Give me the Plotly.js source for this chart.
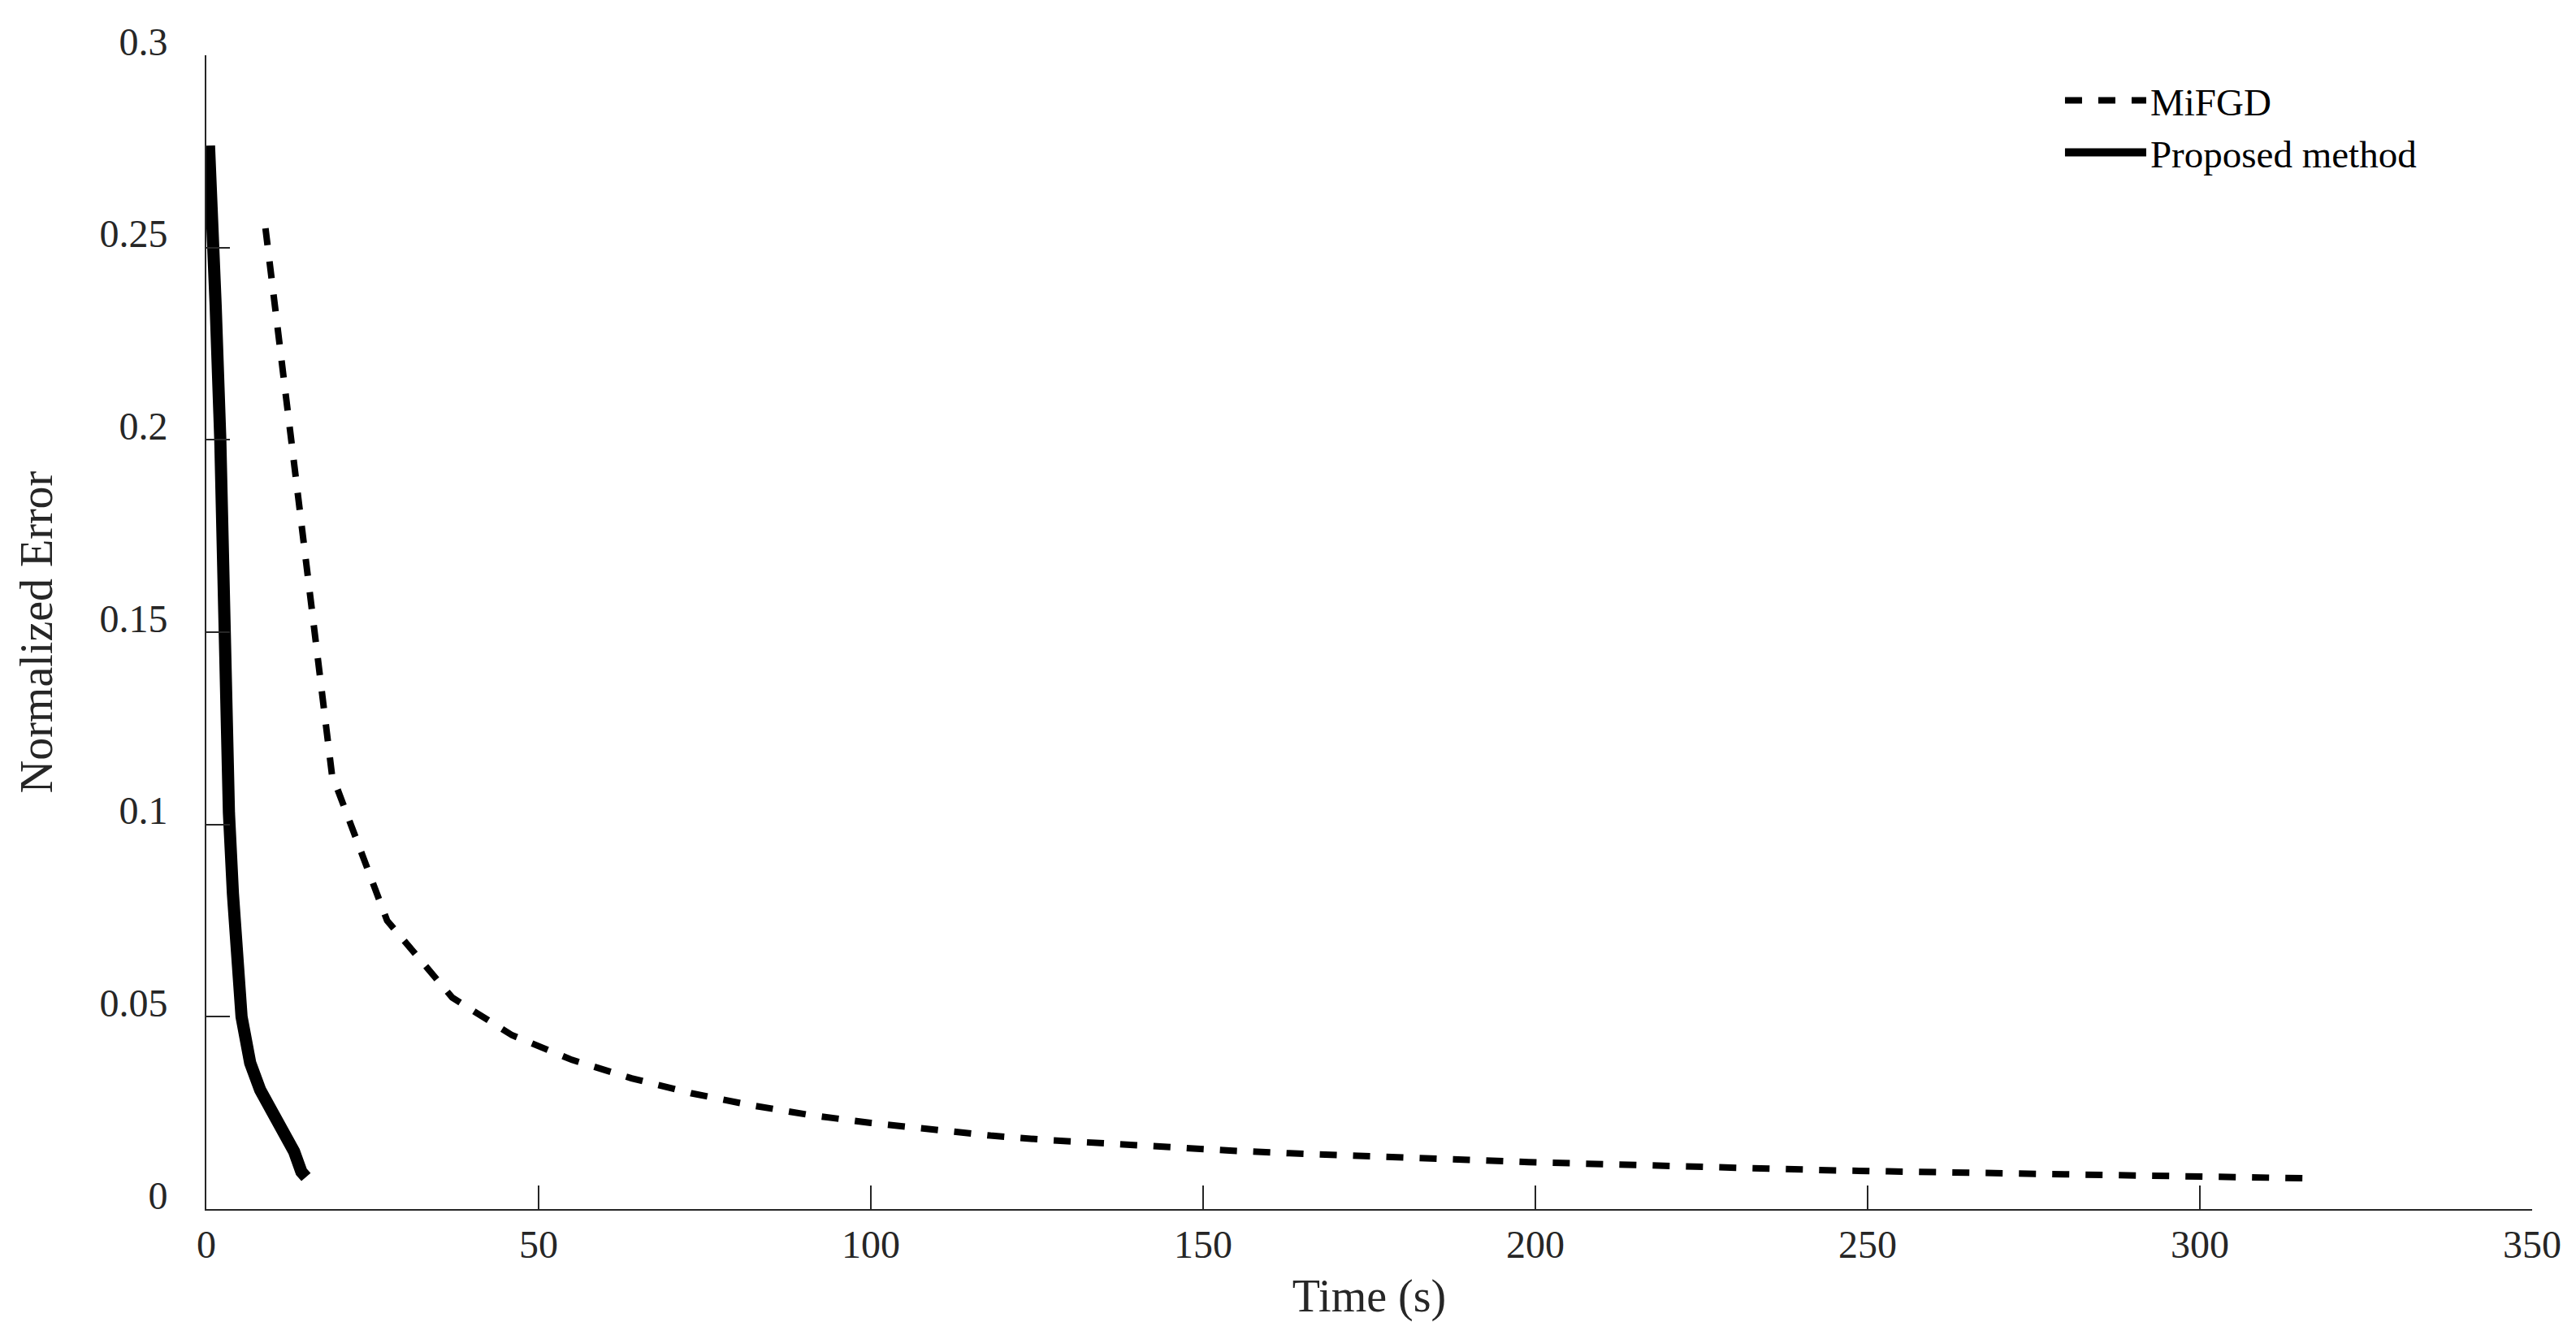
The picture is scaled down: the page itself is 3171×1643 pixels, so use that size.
<!DOCTYPE html>
<html>
<head>
<meta charset="utf-8">
<script src="https://cdn.plot.ly/plotly-3.0.1.min.js"></script>
<style>
  html, body { margin: 0; padding: 0; background: #ffffff; }
  #chart { width: 3171px; height: 1643px; }
</style>
</head>
<body>
<div id="chart"></div>
<script>
// ---- Data ----
const seriesNames = ["MiFGD", "Proposed method"];

const mifgdTime = [8.9, 18.9, 27.2, 37, 46, 55, 64, 73, 82, 91, 100, 109, 118, 127, 136,
  145, 154, 163, 172, 181, 190, 199, 208, 217, 226, 235, 244, 253, 262, 271, 280, 289, 298, 307, 316];
const mifgdError = [0.2550, 0.1130, 0.0750, 0.0550, 0.0452, 0.0388, 0.0340, 0.0301, 0.0270, 0.0244,
  0.0224, 0.0207, 0.0191, 0.0179, 0.0169, 0.0160, 0.0152, 0.0145, 0.0138, 0.0132, 0.0128, 0.0122,
  0.0117, 0.0113, 0.0109, 0.0105, 0.0101, 0.0098, 0.0095, 0.0092, 0.0089, 0.0086, 0.0084, 0.0082, 0.0080];

const proposedTime = [0.4, 0.8, 1.4, 2.1, 2.6, 3.4, 4.0, 5.3, 6.6, 8.1, 10.0, 11.8, 13.2, 14.3, 15.0];
const proposedError = [0.2765, 0.263, 0.235, 0.200, 0.150, 0.103, 0.082, 0.050, 0.038, 0.031,
  0.025, 0.0198, 0.015, 0.0097, 0.0083];

const xTickVals = [0, 50, 100, 150, 200, 250, 300, 350];
const xTickText = ["0", "50", "100", "150", "200", "250", "300", "350"];
const yTickVals = [0, 0.05, 0.1, 0.15, 0.2, 0.25, 0.3];
const yTickText = ["0", "0.05", "0.1", "0.15", "0.2", "0.25", "0.3"];

const xTitle = "Time (s)";
const yTitle = "Normalized Error";

// ---- Styling ----
const FONT = '"Liberation Serif", "Times New Roman", Times, serif';
const AXIS_COLOR = '#262626';

const traces = [
  {
    x: mifgdTime, y: mifgdError, name: seriesNames[0],
    type: 'scatter', mode: 'lines',
    line: { color: '#000000', width: 8, dash: '21px,20px' }
  },
  {
    x: proposedTime, y: proposedError, name: seriesNames[1],
    type: 'scatter', mode: 'lines',
    line: { color: '#000000', width: 15 }
  }
];

const axisCommon = {
  showline: true, linecolor: AXIS_COLOR, linewidth: 2,
  showgrid: false, zeroline: false, mirror: false,
  ticks: 'inside', ticklen: 29, tickwidth: 2, tickcolor: AXIS_COLOR,
  tickfont: { family: FONT, size: 48, color: AXIS_COLOR },
  tickmode: 'array'
};

const layout = {
  width: 3171, height: 1643,
  paper_bgcolor: '#ffffff', plot_bgcolor: '#ffffff',
  margin: { l: 254, r: 54, t: 68, b: 155, pad: 0 },
  font: { family: FONT, color: AXIS_COLOR },
  showlegend: true,
  legend: {
    x: 0.7974, y: 0.987, xanchor: 'left', yanchor: 'top',
    itemwidth: 100,
    bgcolor: 'rgba(0,0,0,0)', borderwidth: 0,
    font: { family: FONT, size: 47, color: '#000000' },
    tracegroupgap: 0
  },
  xaxis: Object.assign({}, axisCommon, {
    range: [0, 350], tickvals: xTickVals, ticktext: xTickText,
    ticklabelstandoff: 0,
    title: { text: xTitle, font: { family: FONT, size: 56, color: AXIS_COLOR }, standoff: 18 }
  }),
  yaxis: Object.assign({}, axisCommon, {
    range: [0, 0.3], tickvals: yTickVals, ticktext: yTickText,
    ticklabelstandoff: 36, ticklabelshift: -17,
    title: { text: yTitle, font: { family: FONT, size: 56, color: AXIS_COLOR }, standoff: 40 }
  })
};

Plotly.newPlot('chart', traces, layout, { displayModeBar: false, staticPlot: true });
</script>
</body>
</html>
